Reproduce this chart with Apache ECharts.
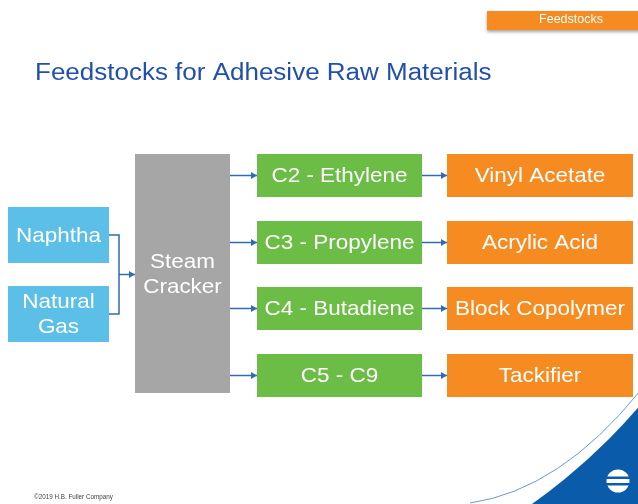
<!DOCTYPE html>
<html>
<head>
<meta charset="utf-8">
<script src="https://cdn.jsdelivr.net/npm/echarts@6/dist/echarts.min.js"></script>
<style>
  html, body { margin: 0; padding: 0; background: #fff; }
  #chart { width: 638px; height: 504px; }
</style>
</head>
<body>
<div id="chart"></div>
<script>
// diagram content
const titleText = 'Feedstocks for Adhesive Raw Materials'
const tagText = 'Feedstocks'
const footerText = '©2019 H.B. Fuller Company'
const sources = ['Naphtha', 'Natural\nGas']
const crackerLabel = 'Steam\nCracker'
const monomers = ['C2 - Ethylene', 'C3 - Propylene', 'C4 - Butadiene', 'C5 - C9']
const products = ['Vinyl Acetate', 'Acrylic Acid', 'Block Copolymer', 'Tackifier']

// layout, in page units of the hidden axes
const rowTops = [154, 221, 287, 354]
const rowH = 43
const srcTops = [207, 286]
const srcH = 56
const col = {
  src: [8, 109],
  cracker: [135, 230],
  mono: [257, 422],
  prod: [447, 633]
}
const crackerSpan = [154, 393]
const colors = { src: '#5BBFE7', cracker: '#A6A6A6', mono: '#6CBD45', prod: '#F68B21', arrow: '#2F6CB3', brand: '#0A5BAA' }
const FONT = '"Liberation Sans", Arial, sans-serif'

const boxes = []
sources.forEach((s, i) => boxes.push([col.src[0], srcTops[i], col.src[1], srcTops[i] + srcH, s, colors.src]))
boxes.push([col.cracker[0], crackerSpan[0], col.cracker[1], crackerSpan[1], crackerLabel, colors.cracker])
monomers.forEach((m, i) => boxes.push([col.mono[0], rowTops[i], col.mono[1], rowTops[i] + rowH, m, colors.mono]))
products.forEach((p, i) => boxes.push([col.prod[0], rowTops[i], col.prod[1], rowTops[i] + rowH, p, colors.prod]))

// connectors: polyline points, the ones flagged get an arrow head at the end
const joinX = 119
const srcMid = srcTops.map(t => t + srcH / 2)
const links = [
  [[col.src[1], srcMid[0]], [joinX, srcMid[0]], [joinX, srcMid[1]], [col.src[1], srcMid[1]]],
  [[joinX, (srcMid[0] + srcMid[1]) / 2], [col.cracker[0], (srcMid[0] + srcMid[1]) / 2]]
]
rowTops.forEach(t => {
  const y = t + rowH / 2
  links.push([[col.cracker[1], y], [col.mono[0], y]])
  links.push([[col.mono[1], y], [col.prod[0], y]])
})
const arrowed = links.map((l, i) => i > 0)

const chart = echarts.init(document.getElementById('chart'))

chart.setOption({
  animation: false,
  grid: { left: 0, right: 0, top: 0, bottom: 0 },
  xAxis: { type: 'value', min: 0, max: 638, show: false },
  yAxis: { type: 'value', min: 0, max: 504, inverse: true, show: false },
  graphic: [
    // corner swoosh: blue corner with a white disc cut over it
    { type: 'rect', z: 0, shape: { x: 480, y: 380, width: 160, height: 130 }, style: { fill: colors.brand } },
    { type: 'circle', z: 0, shape: { cx: 185, cy: 15, r: 599.6 }, style: { fill: '#fff' } },
    {
      type: 'bezierCurve', z: 1,
      shape: { x1: 470, y1: 503, x2: 640, y2: 391, cpx1: 560, cpy1: 490 },
      style: { fill: null, stroke: '#6A98D4', lineWidth: 1 }
    },
    {
      type: 'group', x: 618, y: 481, z: 1,
      children: [
        { type: 'circle', shape: { cx: 0, cy: 0, r: 11.5 }, style: { fill: '#fff' } },
        { type: 'rect', shape: { x: -13, y: -4.5, width: 26, height: 2.5 }, style: { fill: colors.brand } },
        { type: 'rect', shape: { x: -13, y: 2, width: 26, height: 2.5 }, style: { fill: colors.brand } }
      ]
    },
    {
      type: 'rect', z: 1, shape: { x: 487, y: 11, width: 160, height: 19 },
      style: { fill: '#F68B21', shadowBlur: 3, shadowOffsetY: 2, shadowColor: 'rgba(0,0,0,0.35)' }
    },
    {
      type: 'text', z: 1, x: 571, y: 19.5,
      style: { text: tagText, fill: '#fff', font: '12.5px ' + FONT, align: 'center', verticalAlign: 'middle' }
    },
    {
      type: 'text', z: 1, x: 35, y: 73.5, scaleX: 1.13,
      style: { text: titleText, fill: '#2150AC', font: '23px ' + FONT, verticalAlign: 'middle' }
    },
    {
      type: 'text', z: 1, x: 34, y: 497,
      style: { text: footerText, fill: '#444', font: '6.3px ' + FONT, verticalAlign: 'middle' }
    }
  ],
  series: [
    {
      type: 'custom',
      coordinateSystem: 'cartesian2d',
      z: 5,
      data: boxes,
      encode: { x: [0, 2], y: [1, 3] },
      renderItem: (params, api) => {
        const d = boxes[params.dataIndex]
        const p0 = api.coord([d[0], d[1]])
        const p1 = api.coord([d[2], d[3]])
        return {
          type: 'group',
          children: [
            { type: 'rect', shape: { x: p0[0], y: p0[1], width: p1[0] - p0[0], height: p1[1] - p0[1] }, style: { fill: d[5] } },
            {
              type: 'text',
              x: (p0[0] + p1[0]) / 2, y: (p0[1] + p1[1]) / 2 + 1,
              scaleX: 1.07,
              style: {
                x: 0, y: 0,
                text: d[4], fill: '#fff', align: 'center', verticalAlign: 'middle',
                font: '21px ' + FONT, lineHeight: 25
              }
            }
          ]
        }
      }
    },
    {
      type: 'custom',
      coordinateSystem: 'cartesian2d',
      z: 5,
      data: links.map((l, i) => [l[0][0], l[0][1], i]),
      renderItem: (params, api) => {
        const pts = links[params.dataIndex].map(p => api.coord(p))
        const children = [{ type: 'polyline', shape: { points: pts }, style: { stroke: colors.arrow, lineWidth: 1.5, fill: null } }]
        if (arrowed[params.dataIndex]) {
          const e = pts[pts.length - 1]
          children.push({ type: 'polygon', shape: { points: [[e[0], e[1]], [e[0] - 6, e[1] - 3.5], [e[0] - 6, e[1] + 3.5]] }, style: { fill: colors.arrow } })
        }
        return { type: 'group', children }
      }
    }
  ]
})
</script>
</body>
</html>
